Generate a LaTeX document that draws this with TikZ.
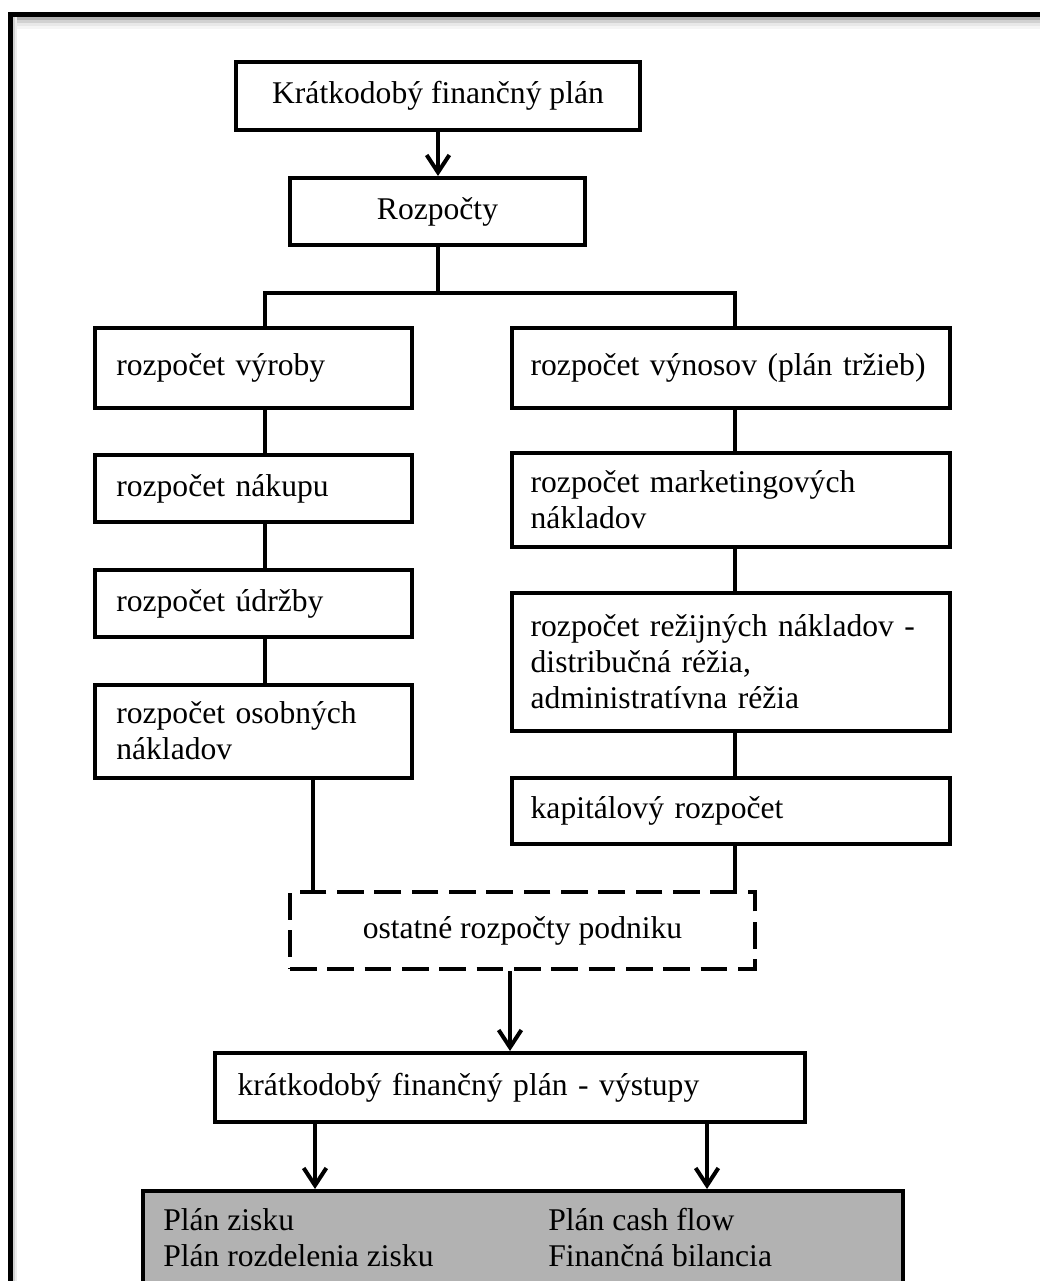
\documentclass[tikz,border=0pt]{standalone}
\usepackage{fontspec}
\setmainfont{Liberation Serif}
\usetikzlibrary{arrows.meta}
\newcommand{\dfont}{\fontsize{23.7}{27}\selectfont}
\begin{document}
\begin{tikzpicture}[x=0.75pt,y=-0.75pt,
  box/.style={draw, line width=3pt, inner ysep=0pt, font=\dfont, anchor=center},
  cbox/.style={box, align=center},
  lbox/.style={box, align=left, inner xsep=16pt, minimum width=237.75pt, text width=205.75pt},
  rbox/.style={box, align=left, inner xsep=14pt, minimum width=328.5pt, text width=300.5pt},
  conn/.style={line width=3pt},
  arr/.style={line width=3pt, -{Straight Barb[length=13pt,width=17pt]}},
]
\useasboundingbox (0,0) rectangle (1040,1281);
\fill[white] (0,0) rectangle (1040,1281);
% outer frame with soft shadow
\fill[black!30] (13,17) rectangle (1040,20);
\fill[black!18] (13,20) rectangle (1040,23);
\fill[black!9] (13,23) rectangle (1040,26);
\fill[black!4] (13,26) rectangle (1040,29);
\fill[black!18] (13,17) rectangle (15,1281);
\fill[black!7] (15,17) rectangle (17,1281);
\draw[line width=3.75pt] (10.5,1281) -- (10.5,15) -- (1040,15);

% nodes
\node[cbox, minimum width=303pt, minimum height=51pt] (A) at (438,96) {Krátkodobý finančný plán};
\node[cbox, minimum width=221.25pt, minimum height=50.25pt] (B) at (437.5,211.5) {Rozpočty};

\node[lbox, minimum height=60pt] (L1) at (253.5,368) {rozpočet výroby};
\node[lbox, minimum height=50.25pt] (L2) at (253.5,488.5) {rozpočet nákupu};
\node[lbox, minimum height=50.25pt] (L3) at (253.5,603.5) {rozpočet údržby};
\node[lbox, minimum height=69.75pt] (L4) at (253.5,731) {rozpočet osobných\\nákladov};

\node[rbox, minimum height=60pt] (R1) at (731,368) {rozpočet~výnosov~(plán~tržieb)};
\node[rbox, minimum height=70.5pt] (R2) at (731,500) {rozpočet marketingových\\nákladov};
\node[rbox, minimum height=103.5pt] (R3) at (731,662) {rozpočet režijných nákladov -\\distribučná réžia,\\administratívna réžia};
\node[rbox, minimum height=49.5pt] (R4) at (731,811) {kapitálový rozpočet};

\node[cbox, dash pattern=on 20pt off 8pt, minimum width=348.75pt, minimum height=57.75pt] (D) at (522.5,930.5) {ostatné rozpočty podniku};

\node[box, align=left, inner xsep=17pt, minimum width=442.5pt, text width=408.5pt, minimum height=51.75pt] (V) at (510,1087.5) {krátkodobý finančný plán - výstupy};

\node[draw, line width=3pt, fill=black!30, minimum width=570pt, minimum height=96.75pt, inner sep=0pt] (G) at (523,1255.5) {};
\node[anchor=west, inner sep=0pt, font=\dfont] (GT) at (163,1241) {\begin{tabular}{@{}p{288.75pt}@{}l@{}}Plán zisku & Plán cash flow\\Plán rozdelenia zisku & Finančná bilancia\end{tabular}};

% helper coordinates
\coordinate (j) at (437.5,293);
\coordinate (lc) at (265,0);
\coordinate (rc) at (735,0);
\coordinate (dl) at (313,0);
\coordinate (g1) at (315,0);
\coordinate (g2) at (707,0);

% connectors
\draw[arr] (A.south) -- (A.south |- B.north);
\draw[conn] (B.south) -- (j);
\draw[conn] (lc |- L1.north) |- (j) -| (rc |- R1.north);
\draw[conn] (lc |- L1.south) -- (lc |- L2.north);
\draw[conn] (lc |- L2.south) -- (lc |- L3.north);
\draw[conn] (lc |- L3.south) -- (lc |- L4.north);
\draw[conn] (rc |- R1.south) -- (rc |- R2.north);
\draw[conn] (rc |- R2.south) -- (rc |- R3.north);
\draw[conn] (rc |- R3.south) -- (rc |- R4.north);
\draw[conn] (dl |- L4.south) -- (dl |- D.north);
\draw[conn] (rc |- R4.south) -- (rc |- D.north);
\draw[arr] (V.north |- D.south) -- (V.north);
\draw[arr] (g1 |- V.south) -- (g1 |- G.north);
\draw[arr] (g2 |- V.south) -- (g2 |- G.north);
\end{tikzpicture}
\end{document}
